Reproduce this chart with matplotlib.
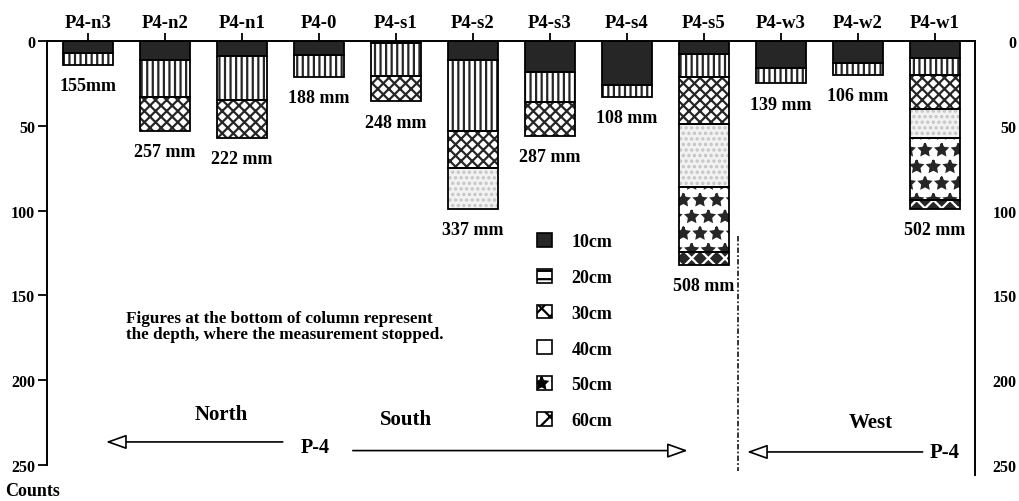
import matplotlib
matplotlib.use('Agg')
import matplotlib.pyplot as plt
import numpy as np
from matplotlib.patches import Patch

# ---------------- data ----------------
sites = ['P4-n3', 'P4-n2', 'P4-n1', 'P4-0', 'P4-s1', 'P4-s2',
         'P4-s3', 'P4-s4', 'P4-s5', 'P4-w3', 'P4-w2', 'P4-w1']
depth_labels = ['155mm', '257 mm', '222 mm', '188 mm', '248 mm', '337 mm',
                '287 mm', '108 mm', '508 mm', '139 mm', '106 mm', '502 mm']
layers = ['10cm', '20cm', '30cm', '40cm', '50cm', '60cm']
c10 = [7, 11, 9, 8, 1, 11, 18, 26, 7.5, 16, 13, 10]
c20 = [7, 22, 26, 13, 19.5, 42, 18, 7, 14, 9, 7, 10]
c30 = [0, 20, 22, 0, 15, 22, 20, 0, 27.5, 0, 0, 20]
c40 = [0, 0, 0, 0, 0, 24, 0, 0, 37, 0, 0, 17]
c50 = [0, 0, 0, 0, 0, 0, 0, 0, 38.5, 0, 0, 37]
c60 = [0, 0, 0, 0, 0, 0, 0, 0, 7.5, 0, 0, 5]
yticks = [0, 50, 100, 150, 200, 250]
note = 'Figures at the bottom of column represent\nthe depth, where the measurement stopped.'

# ---------------- style ----------------
plt.rcParams['font.family'] = ['Liberation Serif', 'DejaVu Serif']
plt.rcParams['font.weight'] = 'bold'
plt.rcParams['hatch.linewidth'] = 1.6
DARK = '#262626'

seg_styles = [
    dict(fc=DARK, hatch=None, hc=DARK),              # 10cm
    dict(fc='white', hatch='|||', hc=DARK),          # 20cm
    dict(fc='white', hatch='xxx', hc=DARK),          # 30cm
    dict(fc='#f2f2f2', hatch='...', hc='#c4c4c4'),   # 40cm
    dict(fc='white', hatch='*', hc=DARK),            # 50cm
    dict(fc=DARK, hatch='xx', hc='white'),           # 60cm
]
legend_styles = [
    dict(fc=DARK, hatch=None),
    dict(fc='white', hatch='--'),
    dict(fc='white', hatch='xx'),
    dict(fc='white', hatch=None),
    dict(fc='white', hatch='*'),
    dict(fc='white', hatch='x'),
]

fig = plt.figure(figsize=(10.19, 5.02), dpi=100)
ax = fig.add_axes([47 / 1019, 1 - 466 / 502, 928 / 1019, 424 / 502])

x = np.arange(len(sites))
width = 0.66
series = [c10, c20, c30, c40, c50, c60]
bottom = np.zeros(len(sites))
for vals, st in zip(series, seg_styles):
    vals = np.asarray(vals, dtype=float)
    mask = vals > 0
    ax.bar(x[mask], vals[mask], width, bottom=bottom[mask], color=st['fc'],
           hatch=st['hatch'], edgecolor=st['hc'], linewidth=0, zorder=2)
    ax.bar(x[mask], vals[mask], width, bottom=bottom[mask], facecolor='none',
           edgecolor='black', linewidth=1.3, zorder=3)
    bottom = bottom + vals

for xi, tot, lab in zip(x, bottom, depth_labels):
    ax.annotate(lab, xy=(xi, tot), xytext=(0, -9), textcoords='offset points',
                ha='center', va='top', fontsize=13, fontweight='bold')

ax.set_xlim(-0.532, 11.52)
ax.set_ylim(250, 0)
ax.set_xticks(x)
ax.set_xticklabels(sites, fontsize=13.5, fontweight='bold')
ax.xaxis.set_ticks_position('top')
ax.xaxis.set_label_position('top')
ax.tick_params(axis='x', direction='out', length=6, width=1.3, pad=1.5)
ax.set_yticks(yticks)
ax.set_yticklabels([str(v) for v in yticks], fontsize=11.5, fontweight='bold')
ax.tick_params(axis='y', direction='out', length=6.5, width=1.3, pad=2)

for s in ['top', 'left', 'right']:
    ax.spines[s].set_linewidth(1.4)
ax.spines['bottom'].set_visible(False)
ax.spines['right'].set_bounds(0, 256)

sec = ax.secondary_yaxis('right')
sec.set_yticks(yticks)
sec.set_yticklabels([str(v) for v in yticks], fontsize=11.5, fontweight='bold')
sec.tick_params(length=0, pad=30)
for lab in sec.get_yticklabels():
    lab.set_horizontalalignment('right')
for s in sec.spines.values():
    s.set_visible(False)

# legend
handles = [Patch(facecolor=st['fc'], hatch=st['hatch'], edgecolor='black',
                 linewidth=1.2) for st in legend_styles]
fig.legend(handles, layers, loc='upper left',
           bbox_to_anchor=(537 / 1019, 1 - 234 / 502),
           bbox_transform=fig.transFigure, frameon=False,
           handlelength=0.85, handleheight=0.8, handletextpad=1.05,
           labelspacing=1.03, borderpad=0, borderaxespad=0,
           prop=dict(weight='bold', size=13))

# annotations
ax.text(0.494, 168, note, ha='left', va='center', fontsize=12.3,
        fontweight='bold', linespacing=0.95)
ax.text(1.73, 220, 'North', ha='center', va='center', fontsize=15, fontweight='bold')
ax.text(4.13, 223, 'South', ha='center', va='center', fontsize=15, fontweight='bold')
ax.text(10.16, 224.6, 'West', ha='center', va='center', fontsize=15, fontweight='bold')
ax.text(2.95, 239.4, 'P-4', ha='center', va='center', fontsize=14.5, fontweight='bold')
ax.text(11.13, 242.3, 'P-4', ha='center', va='center', fontsize=15, fontweight='bold')

arrow_kw = dict(arrowstyle='-|>,head_length=0.7,head_width=0.25', fc='white',
                ec='black', lw=1.2, mutation_scale=18, shrinkA=0, shrinkB=0)
ax.annotate('', xy=(0.234, 236.4), xytext=(2.53, 236.4), arrowprops=arrow_kw)
ax.annotate('', xy=(7.79, 241.5), xytext=(3.44, 241.5), arrowprops=arrow_kw)
ax.annotate('', xy=(8.56, 242.3), xytext=(10.84, 242.3), arrowprops=arrow_kw)

ax.plot([8.44, 8.44], [115, 253.5], color=DARK, lw=1.3, dashes=(3, 1.2, 1, 1.2),
        clip_on=False)

fig.text(33 / 1019, 1 - 492 / 502, 'Counts', ha='center', va='center',
         fontsize=13, fontweight='bold')

fig.savefig('out.png', dpi=100, facecolor='white')
